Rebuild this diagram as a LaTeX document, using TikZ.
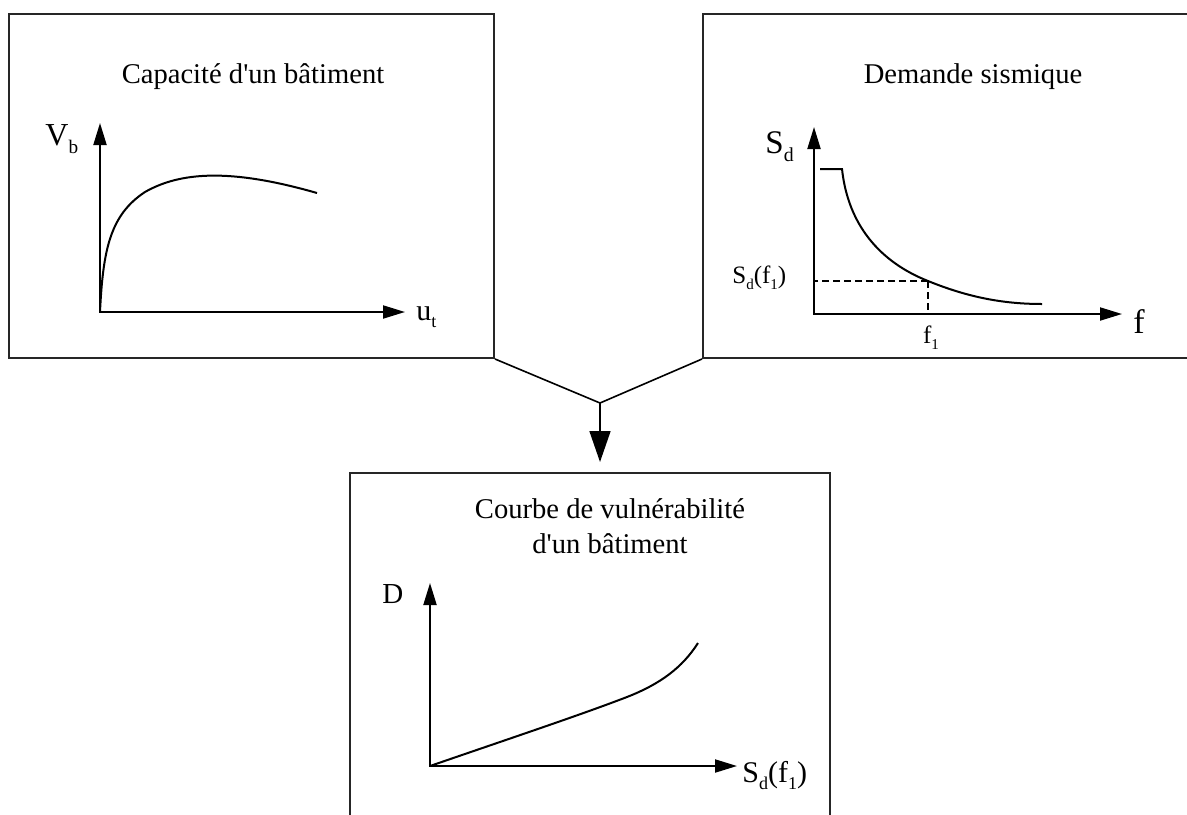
\documentclass[tikz,border=0pt]{standalone}
\usepackage{fontspec}
\setmainfont{Liberation Serif}
\usepackage{graphicx}
\usetikzlibrary{arrows.meta}

\newcommand{\lowsub}[1]{\raisebox{-0.25em}{\scalebox{0.6}{#1}}}

\begin{document}
\begin{tikzpicture}[
    x=0.5pt, y=-0.5pt,
    panel/.style={rectangle, draw=black!85, line width=1pt, inner sep=0pt},
    title/.style={font=\fontsize{14.3}{17.5}\selectfont, align=center},
    lbl/.style={inner sep=0pt, anchor=base west},
    axis/.style={line width=1pt, {Triangle[length=11pt, width=6.5pt]}-{Triangle[length=11pt, width=6.5pt]}},
    curve/.style={line width=1pt},
    guide/.style={line width=0.6pt, dash pattern=on 3.5pt off 2pt},
    link/.style={line width=0.8pt}
]
\useasboundingbox (0,0) rectangle (1187,814);
\clip (0,0) rectangle (1187,814);

% panels
\node[panel, minimum width=242.5pt, minimum height=172pt] (capbox) at (251.5,186) {};
\node[panel, minimum width=246pt, minimum height=172pt] (dembox) at (949,186) {};
\node[panel, minimum width=240pt, minimum height=174.5pt] (vulbox) at (590,647.5) {};

\node[title] (captitle) at (253,77) {Capacité d\textquotesingle un bâtiment};
\node[title] (demtitle) at (973,77) {Demande sismique};
\node[title] (vultitle) at (610,526) {Courbe de vulnérabilité\\d\textquotesingle un bâtiment};

% capacity curve
\coordinate (capO) at (100,312);
\draw[axis] (100,123) -- (capO) -- (405,312);
\node[lbl, font=\fontsize{16}{16}\selectfont] (capV) at (45,145) {V\lowsub{b}};
\node[lbl, font=\fontsize{15}{15}\selectfont] (capU) at (416,320) {u\lowsub{t}};
\draw[curve] (capO) .. controls (103,250) and (110,215) .. (145,192)
  .. controls (180,172) and (230,168) .. (317,193);

% seismic demand
\coordinate (demO) at (814,314);
\coordinate (demP) at (928,281);
\draw[axis] (814,127) -- (demO) -- (1122,314);
\node[lbl, font=\fontsize{16.5}{16.5}\selectfont] (demS) at (765,153) {S\lowsub{d}};
\node[lbl, font=\fontsize{17}{17}\selectfont] (demF) at (1133,333) {f};
\node[lbl, font=\fontsize{12.5}{12.5}\selectfont] (demSf) at (732,283) {S\lowsub{d}(f\lowsub{1})};
\node[inner sep=0pt, anchor=base, font=\fontsize{12.5}{12.5}\selectfont] (demF1) at (931,343) {f\lowsub{1}};
\draw[curve] (820,169) -- (842,169)
  .. controls (848,225) and (880,262) .. (demP)
  .. controls (965,296) and (1000,304) .. (1042,304);
\draw[guide] (demP) -- (demP -| demO);
\draw[guide] (demP) -- (demP |- demO);

% vulnerability curve
\coordinate (vulO) at (430,766);
\draw[axis] (430,583) -- (vulO) -- (737,766);
\node[lbl, font=\fontsize{14.5}{14.5}\selectfont] (vulD) at (382,603) {D};
\node[lbl, font=\fontsize{15}{15}\selectfont] (vulSf) at (742,782) {S\lowsub{d}(f\lowsub{1})};
\draw[curve] (vulO) .. controls (520,735) and (580,715) .. (627,697)
  .. controls (660,684) and (682,668) .. (698,643);

% merge
\coordinate (merge) at (600,403);
\draw[link] (capbox.south east) -- (merge) -- (dembox.south west);
\draw[link, -{Triangle[length=15.5pt, width=10.5pt]}, shorten >=5pt] (merge) -- (merge |- vulbox.north);
\end{tikzpicture}
\end{document}
